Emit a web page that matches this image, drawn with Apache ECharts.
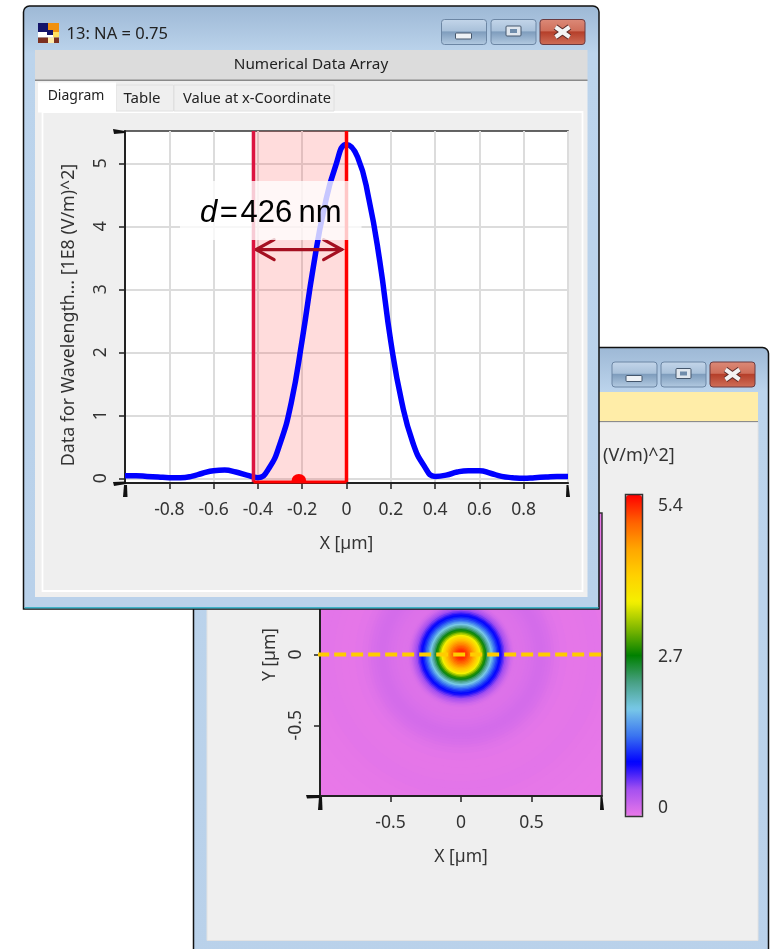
<!DOCTYPE html>
<html>
<head>
<meta charset="utf-8">
<style>html,body{margin:0;padding:0;background:#fff}#c{width:780px;height:949px}</style>
<script src="https://cdn.jsdelivr.net/npm/echarts@6/dist/echarts.min.js"></script>
</head>
<body>
<div id="c"></div>
<script>
// ---- data ----
const profileX = [-1,-0.95,-0.9,-0.85,-0.8,-0.75,-0.7,-0.65,-0.6,-0.55,-0.5,-0.45,-0.4,-0.35,-0.3,-0.25,-0.2,-0.15,-0.1,-0.05,0,0.05,0.1,0.15,0.2,0.25,0.3,0.35,0.4,0.45,0.5,0.55,0.6,0.65,0.7,0.75,0.8,0.85,0.9,0.95,1];
const profileY = [0.04,0.04,0.03,0.02,0.01,0.01,0.03,0.08,0.12,0.13,0.1,0.05,0.01,0.16,0.55,1.19,2.2,3.35,4.3,4.95,5.3,5.1,4.45,3.45,2.17,1.2,0.56,0.2,0.03,0.05,0.1,0.12,0.12,0.08,0.03,0.01,0,0.01,0.02,0.03,0.03];
const ringRadius = [1.45,1.4,1.35,1.3,1.25,1.2,1.15,1.1,1.05,1,0.95,0.9,0.85,0.8,0.75,0.7,0.68,0.66,0.64,0.62,0.6,0.58,0.56,0.54,0.52,0.5,0.48,0.46,0.44,0.42,0.4,0.39,0.38,0.37,0.36,0.35,0.34,0.33,0.32,0.31,0.3,0.29,0.28,0.27,0.26,0.25,0.24,0.23,0.22,0.21,0.2,0.19,0.18,0.17,0.16,0.15,0.14,0.13,0.12,0.11,0.1,0.09,0.08,0.07,0.06,0.05,0.04,0.03,0.02,0.01];
const ringValue = [0,0,0,0,0.005,0.005,0.01,0.01,0.02,0.03,0.03,0.025,0.02,0.02,0.03,0.05,0.06,0.08,0.1,0.115,0.125,0.13,0.13,0.125,0.115,0.1,0.09,0.08,0.075,0.07,0.07,0.07,0.08,0.11,0.15,0.22,0.3,0.38,0.47,0.58,0.7,0.82,0.93,1.03,1.15,1.29,1.44,1.62,1.81,2,2.2,2.4,2.62,2.85,3.1,3.35,3.6,3.82,4.02,4.2,4.38,4.55,4.7,4.84,4.96,5.06,5.15,5.21,5.26,5.3];
const profileYTicks = [0,1,2,3,4,5];
const spotStart = [-0.42];
const spotEnd = [0];
const spotCentre = [-0.215];
const spotLabel = '426';
const colorRamp = ['#e878e8','#a450f0','#0000ff','#3a74f0','#78c8e8','#48a084','#008000','#80b800','#f4f000','#ffd000','#ffa500','#ff6000','#ff0000'];

// ---- window chrome helpers ----
const FONT = '"Noto Sans"';
const els = [];
const grad = (stops, h) => new echarts.graphic.LinearGradient(0,0,h?1:0,h?0:1, stops.map((c,i)=>Array.isArray(c)?{offset:c[0],color:c[1]}:{offset:i/(stops.length-1),color:c}));
function rect(x,y,w,h,fill,z,o={}) {
  els.push({type:'rect',silent:true,z:z,z2:els.length,shape:{x,y,width:w,height:h,r:o.r||0},style:{fill,stroke:o.stroke||null,lineWidth:o.lw||0}});
}
function text(t,x,y,z,o={}) {
  els.push({type:'text',silent:true,z:z,z2:els.length,x,y,rotation:o.rot||0,style:{text:t,fill:o.fill||'#333',font:(o.size||16)+'px '+(o.family||FONT),align:o.align||'left',verticalAlign:'middle',rich:o.rich}});
}
function line(pts,stroke,lw,z,fill) {
  els.push({type:'polyline',silent:true,z:z,z2:els.length,shape:{points:pts},style:{stroke,lineWidth:lw,fill:null}});
}
function wedge(pts,z) {
  els.push({type:'polygon',silent:true,z:z,z2:els.length,shape:{points:pts},style:{fill:'#111'}});
}
function buttons(xMin,xMax,xClose,y,h,z) {
  const w=45;
  const blue=grad([[0,'#c4d6ea'],[0.45,'#a9c1da'],[0.5,'#7f9dbd'],[1,'#b4cbe2']]);
  rect(xMin,y,w,h,blue,z,{r:3,stroke:'#6c86a4',lw:1});
  rect(xMax,y,w,h,blue,z,{r:3,stroke:'#6c86a4',lw:1});
  rect(xClose,y,w,h,grad([[0,'#dc8a78'],[0.45,'#cf6f5b'],[0.5,'#b53f2a'],[1,'#d0705a']]),z,{r:3,stroke:'#6a3a40',lw:1});
  const cy=y+h/2;
  rect(xMin+14,cy+1,16,6,'#eef2f6',z,{r:1,stroke:'#44566c',lw:1});
  rect(xMax+15,cy-6,15,10,'#dfe6ee',z,{r:1,stroke:'#44566c',lw:1});
  rect(xMax+19,cy-3,7,4,'#6f8cab',z);
  const cx=xClose+w/2;
  line([[cx-7,cy-5],[cx+7,cy+5]],'#5a2a28',6,z);
  line([[cx-7,cy+5],[cx+7,cy-5]],'#5a2a28',6,z);
  line([[cx-7,cy-5],[cx+7,cy+5]],'#f3f3f3',4,z);
  line([[cx-7,cy+5],[cx+7,cy-5]],'#f3f3f3',4,z);
}

// ---- back window ----
const Zb=1;
rect(193.5,347.5,575,640,grad([[0,'#9db8d5'],[0.07,'#bcd4ec'],[1,'#b9d1ea']]),Zb,{r:[6,6,0,0],stroke:'#111',lw:1.5});
rect(207,392,551,29,'#ffeda8',Zb);
rect(207,421,551,1.5,'#8c8c8c',Zb);
rect(207,422.5,551,518,'#efefef',Zb,{stroke:'#e2e2e2',lw:1});
buttons(612,661,710,362,25,Zb);
text('(V/m)^2]',603,456,Zb+2,{size:18});
rect(625.5,494.5,17,322,null,6,{stroke:'#333',lw:1.5});
wedge([[306,795],[320,795],[320,798],[307,798.5]],4);
wedge([[319,797],[322,797],[322.5,810],[318,810]],4);
wedge([[600.5,797],[602.5,797],[604,810],[600,810]],4);

// ---- front window ----
const Zf=10;
rect(23.5,6,575.5,603,grad([[0,'#9db8d5'],[0.08,'#bcd4ec'],[1,'#b9d1ea']]),Zf,{r:[6,6,0,0],stroke:'#111',lw:1.5});
rect(24.5,607,574,1.5,'#3fb3c8',Zf);
rect(35,50,552.5,30,'#dcdcdc',Zf);
rect(35,79.5,552.5,1.5,'#8a8a8a',Zf);
rect(35,81,552.5,516,'#efefef',Zf);
rect(42.5,112,540,479,'#efefef',Zf,{stroke:'#ffffff',lw:1.8});
rect(116,85,57.5,26,'#efefef',Zf,{stroke:'#e0e0e0',lw:1});
rect(174,85,160,26,'#efefef',Zf,{stroke:'#e0e0e0',lw:1});
rect(38,82.5,78,30,'#ffffff',Zf);
text('13: NA = 0.75',66.5,34,Zf,{size:16.5,fill:'#222'});
text('Numerical Data Array',311,65,Zf,{size:15.3,align:'center',fill:'#222'});
text('Diagram',76,96.5,Zf,{size:14,align:'center',fill:'#222'});
text('Table',142,99,Zf,{size:15,align:'center',fill:'#222'});
text('Value at x-Coordinate',257,99,Zf,{size:14.7,align:'center',fill:'#222'});
// title-bar icon
rect(38,23,10,9,'#14146a',Zf);
rect(48,23,11,9,'#f0900f',Zf);
rect(38,32,9,5.5,'#ffffff',Zf);
rect(47,30,6,5,'#14146a',Zf);
rect(53,32,6,5.5,'#ffe060',Zf);
rect(47,35,6,2.5,'#fff',Zf);
rect(38,37.5,10,5.5,'#7c3020',Zf);
rect(48,37.5,6,5.5,'#ffeaa8',Zf);
rect(54,37.5,5,5.5,'#7c3020',Zf);
buttons(441.5,491,540,19.5,25,Zf);
text('Data for Wavelength... [1E8 (V/m)^2]',69,315,Zf,{rot:Math.PI/2,align:'center',size:17.8});
// annotation block above the plot
const Ztop=16;
wedge([[113,129],[125,131],[125,133],[114,134]],Ztop);
wedge([[113,482],[126,481.5],[126,484],[114,486]],Ztop);
wedge([[124,485],[127,485],[127.5,497],[123,497]],Ztop);
wedge([[566.5,485],[568.5,485],[570,497],[566,497]],Ztop);
rect(180,181,181.5,59,'rgba(255,255,255,0.78)',Ztop);
els.push({type:'text',silent:true,z:Ztop,z2:els.length+1,x:200,y:213.5,style:{
  rich:{d:{font:'italic 31px "Liberation Sans"',fill:'#000'},n:{font:'31px "Liberation Sans"',fill:'#000'}},
  text:'{d|d}{n|\u200a=\u200a'+spotLabel+'\u2009nm}',verticalAlign:'middle',align:'left'}});

// ---- chart option ----
const axisFont={fontFamily:FONT,fontSize:17.5,color:'#333'};
const heavy={onZero:false,lineStyle:{color:'#222',width:2}};
const tick={length:6,lineStyle:{color:'#222',width:1.5}};
const splitL={show:true,lineStyle:{color:'#dcdcdc',width:2}};
const bracket=(x)=>[[x,-0.058],[x,5.513]];

const option={
  animation:false,
  backgroundColor:'#ffffff',
  grid:[
    {left:125,top:131,width:443,height:352,show:true,backgroundColor:'#fff',borderColor:'#333',borderWidth:1.5,z:11},
    {left:320,top:513,width:282,height:283,show:true,backgroundColor:'transparent',borderColor:'#333',borderWidth:1.5,z:3},
    {left:625,top:506,width:17,height:302,show:false,z:3}
  ],
  xAxis:[
    {gridIndex:0,type:'value',min:-1,max:1,interval:0.2,z:12,axisLine:heavy,axisTick:tick,splitLine:splitL,
     name:'X [µm]',nameLocation:'middle',nameGap:52,nameTextStyle:axisFont,
     axisLabel:Object.assign({margin:18,showMinLabel:false,showMaxLabel:false},axisFont)},
    {gridIndex:1,type:'value',min:-1,max:1,interval:0.5,z:3,axisLine:heavy,axisTick:tick,splitLine:{show:false},
     name:'X [µm]',nameLocation:'middle',nameGap:52,nameTextStyle:axisFont,
     axisLabel:Object.assign({margin:18,showMinLabel:false,showMaxLabel:false},axisFont)},
    {gridIndex:2,type:'value',show:false,min:0,max:1}
  ],
  yAxis:[
    {gridIndex:0,type:'value',min:-0.075,max:5.513,z:12,axisLine:heavy,
     axisTick:Object.assign({customValues:profileYTicks},tick),
     splitLine:Object.assign({customValues:profileYTicks},splitL),
     axisLabel:Object.assign({customValues:profileYTicks,rotate:90,margin:15},axisFont)},
    {gridIndex:1,type:'value',min:-1,max:1,interval:0.5,z:3,axisLine:heavy,axisTick:tick,splitLine:{show:false},
     name:'Y [µm]',nameLocation:'middle',nameGap:41,nameTextStyle:axisFont,
     axisLabel:Object.assign({rotate:90,margin:15,showMinLabel:false,showMaxLabel:false},axisFont)},
    {gridIndex:2,type:'value',position:'right',min:0,max:5.4,interval:2.7,z:3,
     axisLine:{show:false},axisTick:{show:false},splitLine:{show:false},
     axisLabel:Object.assign({margin:16,formatter:v=>String(v)},axisFont)}
  ],
  visualMap:[{
    type:'continuous',seriesIndex:0,dimension:1,min:0,max:5.4,
    left:626,top:495,itemWidth:16,itemHeight:321,padding:0,text:null,showLabel:false,
    calculable:false,hoverLink:false,z:5,
    inRange:{color:colorRamp}
  }],
  graphic:{elements:els},
  series:[
    {type:'custom',name:'map',coordinateSystem:'cartesian2d',xAxisIndex:1,yAxisIndex:1,z:2,clip:true,silent:true,
     dimensions:['r','v'],encode:{x:0,y:1},
     data:ringRadius.map((r,i)=>[r,ringValue[i]]),
     renderItem(params,api){
       const c=api.coord([0,0]);
       const r=api.size([api.value(0),0])[0];
       return {type:'circle',shape:{cx:c[0],cy:c[1],r},style:{fill:api.visual('color')}};
     }},
    {type:'line',name:'cut',xAxisIndex:1,yAxisIndex:1,z:4,symbol:'none',silent:true,clip:false,
     data:[[-1.02,0],[1,0]],lineStyle:{color:'#ffcc00',width:4,type:[12,5]}},
    {type:'custom',name:'band',coordinateSystem:'cartesian2d',xAxisIndex:0,yAxisIndex:0,z:13,silent:true,
     encode:{x:[0,1]},data:[[spotStart[0],spotEnd[0]]],
     renderItem(params,api){
       const a=api.coord([api.value(0),0])[0], b=api.coord([api.value(1),0])[0];
       return {type:'rect',shape:{x:a,y:params.coordSys.y,width:b-a,height:params.coordSys.height},style:{fill:'rgba(255,50,50,0.17)'}};
     }},
    {type:'line',name:'profile',xAxisIndex:0,yAxisIndex:0,z:14,symbol:'none',smooth:0.5,silent:true,
     data:profileX.map((x,i)=>[x,profileY[i]]),lineStyle:{color:'#0000ff',width:5.5}},
    {type:'line',name:'left edge',xAxisIndex:0,yAxisIndex:0,z:15,symbol:'none',silent:true,
     data:bracket(spotStart[0]),lineStyle:{color:'#dc1440',width:3.5}},
    {type:'line',name:'right edge',xAxisIndex:0,yAxisIndex:0,z:15,symbol:'none',silent:true,
     data:bracket(spotEnd[0]),lineStyle:{color:'#ff0000',width:3.5}},
    {type:'line',name:'base',xAxisIndex:0,yAxisIndex:0,z:15,symbol:'none',silent:true,
     data:[[spotStart[0],-0.058],[spotEnd[0],-0.058]],lineStyle:{color:'#ff0000',width:3}},
    {type:'custom',name:'centre',coordinateSystem:'cartesian2d',xAxisIndex:0,yAxisIndex:0,z:15,silent:true,clip:true,
     encode:{x:0,y:1},data:[[spotCentre[0],-0.05]],
     renderItem(params,api){
       const c=api.coord([api.value(0),api.value(1)]);
       return {type:'circle',shape:{cx:c[0],cy:c[1],r:7.5},style:{fill:'#ff0000'}};
     }},
    {type:'custom',name:'dimension arrow',coordinateSystem:'cartesian2d',xAxisIndex:0,yAxisIndex:0,z:15,silent:true,
     encode:{x:[0,1],y:2},data:[[spotStart[0]+0.012,spotEnd[0]-0.022,3.63]],
     renderItem(params,api){
       const a=api.coord([api.value(0),api.value(2)]), b=api.coord([api.value(1),api.value(2)]);
       const s={stroke:'#a50f20',lineWidth:3.2,fill:null,lineCap:'round'};
       const h=18,v=10;
       return {type:'group',children:[
         {type:'polyline',shape:{points:[a,b]},style:s},
         {type:'polyline',shape:{points:[[a[0]+h,a[1]-v],a,[a[0]+h,a[1]+v]]},style:s},
         {type:'polyline',shape:{points:[[b[0]-h,b[1]-v],b,[b[0]-h,b[1]+v]]},style:s}
       ]};
     }}
  ]
};
const chart=echarts.init(document.getElementById('c'),null,{renderer:'canvas'});
chart.setOption(option);
</script>
</body>
</html>
